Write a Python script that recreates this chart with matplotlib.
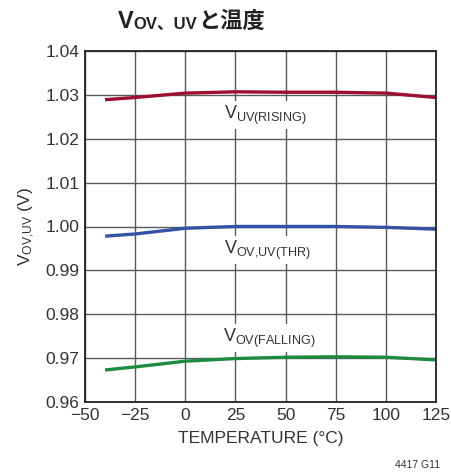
import matplotlib
matplotlib.use("Agg")
import matplotlib.pyplot as plt
from matplotlib.ticker import FixedLocator

NARROW = ["Liberation Sans Narrow", "Liberation Sans", "DejaVu Sans"]
CJK = ["Liberation Sans Narrow", "Liberation Sans", "Noto Sans CJK JP", "DejaVu Sans"]

plt.rcParams["font.family"] = NARROW
plt.rcParams["mathtext.fontset"] = "custom"
plt.rcParams["mathtext.rm"] = "Liberation Sans"
plt.rcParams["mathtext.it"] = "Liberation Sans"
plt.rcParams["mathtext.default"] = "rm"

# data
temps = [-40, -25, 0, 25, 50, 75, 100, 125]
v_uv_rising = [1.0289, 1.0294, 1.0304, 1.0307, 1.0306, 1.0306, 1.0304, 1.0294]
v_thr = [0.9978, 0.9983, 0.9996, 1.0000, 1.0000, 1.0000, 0.9998, 0.9994]
v_ov_falling = [0.9673, 0.9680, 0.9693, 0.9699, 0.9702, 0.9703, 0.9702, 0.9696]

x_ticks = [-50, -25, 0, 25, 50, 75, 100, 125]
x_labels = ["\u221250", "\u221225", "0", "25", "50", "75", "100", "125"]
y_ticks = [0.96, 0.97, 0.98, 0.99, 1.00, 1.01, 1.02, 1.03, 1.04]

fig = plt.figure(figsize=(4.52, 4.72), dpi=100)
ax = fig.add_axes([85 / 452, 1 - 402 / 472, 351 / 452, 351 / 472])

ax.plot(temps, v_uv_rising, color="#9c0f2e", lw=2.4, solid_capstyle="butt")
ax.plot(temps, v_thr, color="#3352a5", lw=2.4, solid_capstyle="butt")
ax.plot(temps, v_ov_falling, color="#1e8a40", lw=2.4, solid_capstyle="butt")

ax.set_xlim(-50, 125)
ax.set_ylim(0.96, 1.04)
ax.xaxis.set_major_locator(FixedLocator(x_ticks))
ax.set_xticklabels(x_labels)
ax.yaxis.set_major_locator(FixedLocator(y_ticks))
ax.set_yticklabels([f"{v:.2f}" for v in y_ticks])
ax.tick_params(length=0, labelsize=12.5, colors="#333333", pad=4)
ax.grid(True, color="#5a5a5a", lw=1.0)
ax.set_axisbelow(True)
for s in ax.spines.values():
    s.set_color("#222222")
    s.set_linewidth(1.3)

ax.set_xlabel("TEMPERATURE (\u00b0C)", fontsize=12.5, color="#333333", labelpad=6)
ax.set_ylabel("$\\mathregular{V_{OV{,}UV}}$ (V)", fontsize=12.5, color="#333333", labelpad=6)

box = dict(facecolor="white", edgecolor="none", pad=1.5)
ax.text(19.5, 1.0254, "$\\mathregular{V_{UV(RISING)}}$", fontsize=13, color="#333333",
        va="center", ha="left", bbox=box)
ax.text(19.5, 0.9946, "$\\mathregular{V_{OV{,}UV(THR)}}$", fontsize=13, color="#333333",
        va="center", ha="left", bbox=box)
ax.text(19.0, 0.9746, "$\\mathregular{V_{OV(FALLING)}}$", fontsize=13, color="#333333",
        va="center", ha="left", bbox=box)

# title built from pieces so the CJK glyphs can fall back
fig.text(118 / 452, 1 - 28 / 472, "V", fontsize=17, fontweight="bold", family=NARROW,
         color="#222222", va="baseline")
fig.text(133 / 452, 1 - 29 / 472, "OV\u3001UV", fontsize=12, fontweight="bold", family=CJK,
         color="#222222", va="baseline")
fig.text(198 / 452, 1 - 28 / 472, "\u3068\u6e29\u5ea6", fontsize=16, fontweight="bold",
         family=["Noto Sans CJK JP", "DejaVu Sans"], color="#222222", va="baseline")

fig.text(440 / 452, 1 - 468 / 472, "4417 G11", fontsize=7.5, color="#333333", ha="right")

fig.savefig("out.png", dpi=100)
